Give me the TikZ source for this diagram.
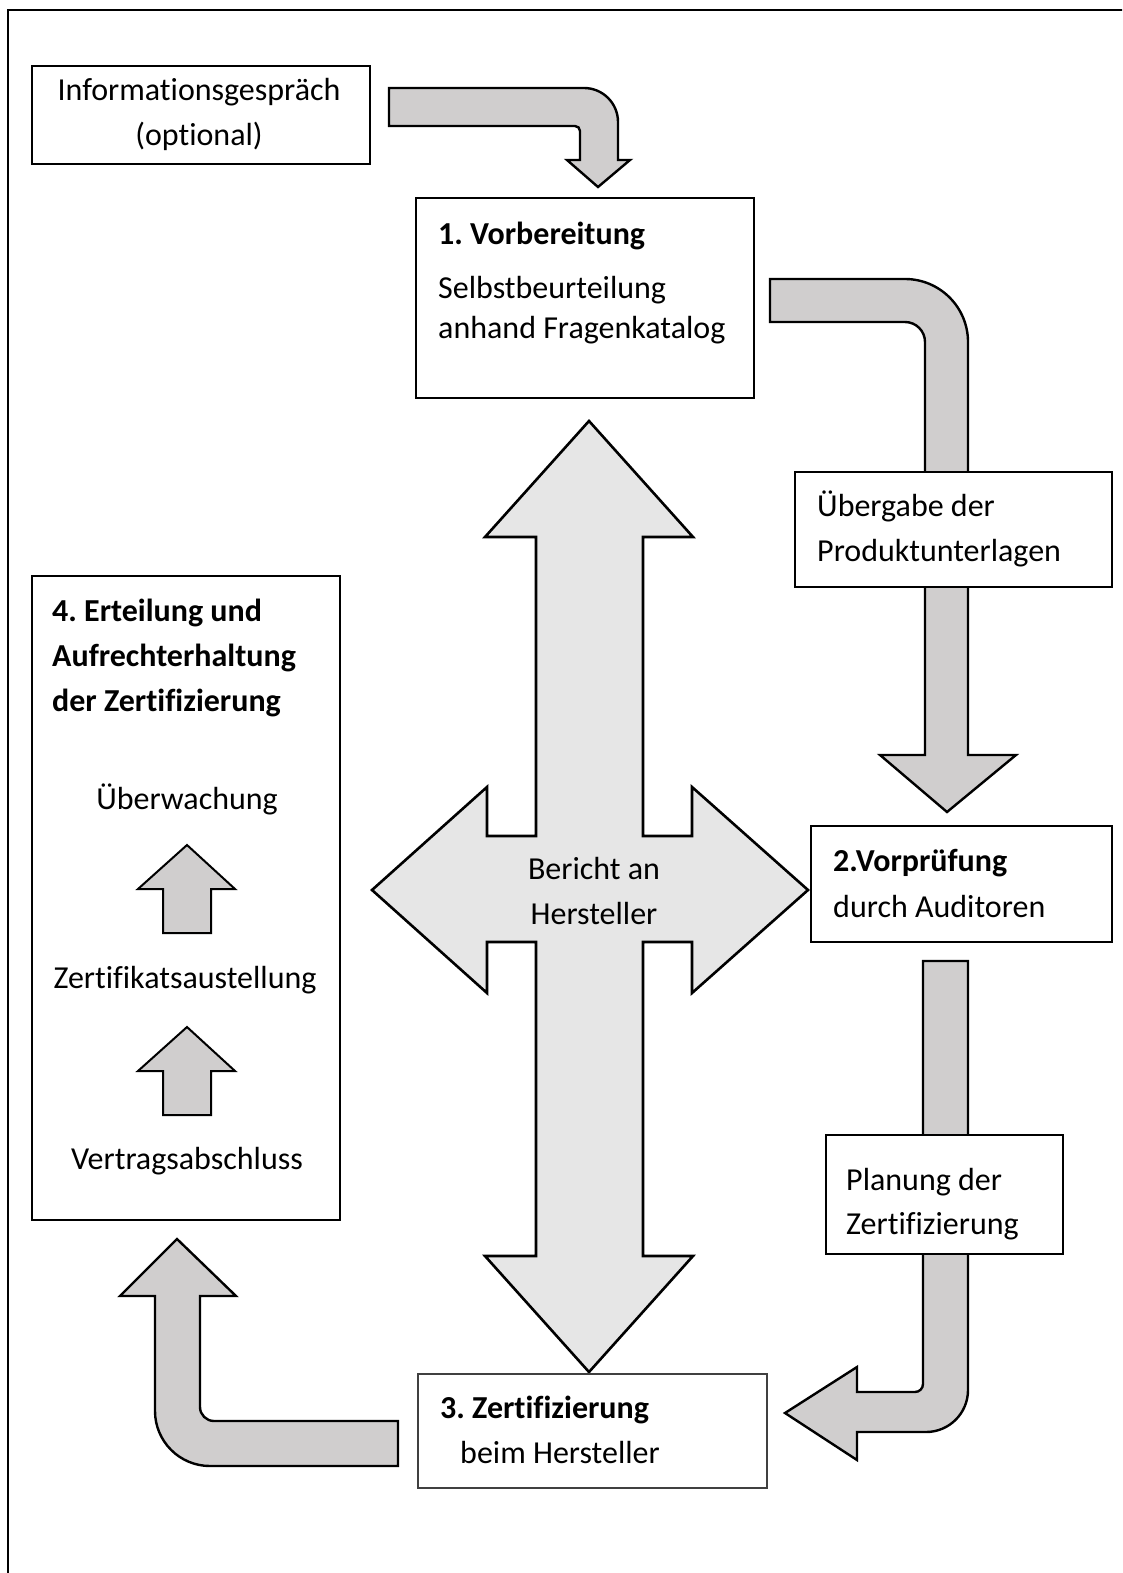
\documentclass[tikz,border=0pt]{standalone}
\usepackage{fontspec}
\setmainfont[Ligatures=NoCommon]{Carlito}
\frenchspacing
\begin{document}
\begin{tikzpicture}[x=1pt,y=-1pt,
  box/.style={draw=black, line width=2pt, fill=white, anchor=north west, inner sep=0pt, outer sep=0pt},
  blockarrow/.style={draw=black, line width=2.4pt, line join=miter, fill=arrowgray},
  crossarrow/.style={draw=black, line width=2.6pt, line join=miter, fill=crossgray},
  txt/.style={inner sep=0pt, anchor=base west, yshift=-3pt, font=\fontsize{32}{45}\selectfont},
  ctxt/.style={txt, anchor=base},
  btxt/.style={txt, font=\fontsize{32}{45}\selectfont\bfseries}]
\definecolor{arrowgray}{HTML}{D0CECE}
\definecolor{crossgray}{HTML}{E6E6E6}
\useasboundingbox (0,0) rectangle (1122,1573);
\clip (0,0) rectangle (1122,1573);

% outer frame (runs past the lower and right edges)
\draw[line width=2.5pt] (8,1620) -- (8,10) -- (1160,10);

% curved block arrow: information talk -> preparation
\draw[blockarrow] (389,88) [rounded corners=34] -- (618,88) [sharp corners] -- (618,160)
  -- (630,160) -- (598,187) -- (567,160) -- (580,160) [rounded corners=5] -- (580,126)
  [sharp corners] -- (389,126) -- cycle;

% curved block arrow: preparation -> pre-check
\draw[blockarrow] (770,279) [rounded corners=63] -- (968,279) [sharp corners] -- (968,755)
  -- (1016,755) -- (947,812) -- (880,755) -- (925,755) [rounded corners=20] -- (925,322)
  [sharp corners] -- (770,322) -- cycle;

% curved block arrow: pre-check -> certification
\draw[blockarrow] (923,961) -- (968,961) [rounded corners=42] -- (968,1432) [sharp corners]
  -- (857,1432) -- (857,1460) -- (785,1413) -- (857,1367) -- (857,1392)
  [rounded corners=8] -- (923,1392) [sharp corners] -- cycle;

% curved block arrow: certification -> granting
\draw[blockarrow] (398,1421) [rounded corners=14] -- (200,1421) [sharp corners] -- (200,1296)
  -- (236,1296) -- (177,1239) -- (120,1296) -- (155,1296) [rounded corners=55] -- (155,1466)
  [sharp corners] -- (398,1466) -- cycle;

% four-way arrow in the middle
\draw[crossarrow] (589,421) -- (693,537) -- (643,537) -- (643,836) -- (692,836) -- (692,787)
  -- (808,890) -- (692,993) -- (692,942) -- (643,942) -- (643,1256) -- (693,1256)
  -- (589,1372) -- (485,1256) -- (536,1256) -- (536,942) -- (487,942) -- (487,993)
  -- (372,890) -- (487,787) -- (487,836) -- (536,836) -- (536,537) -- (485,537) -- cycle;
\node[ctxt] (bericht1) at (594,876) {Bericht an};
\node[ctxt] (bericht2) at (594,921) {Hersteller};

% boxes
\node[box, minimum width=338, minimum height=98] (info) at (32,66) {};
\node[ctxt] (info1) at (199,98) {Informationsgespräch};
\node[ctxt] (info2) at (199,143) {(optional)};

\node[box, minimum width=338, minimum height=200] (vorb) at (416,198) {};
\node[btxt] (vorb1) at (438,241) {1. Vorbereitung};
\node[txt] (vorb2) at (438,295) {Selbstbeurteilung};
\node[txt] (vorb3) at (438,335) {anhand Fragenkatalog};

\node[box, minimum width=317, minimum height=115] (ueber) at (795,472) {};
\node[txt] (ueber1) at (817,513) {Übergabe der};
\node[txt] (ueber2) at (817,558) {Produktunterlagen};

\node[box, minimum width=301, minimum height=116] (vorp) at (811,826) {};
\node[btxt] (vorp1) at (833,868) {2.Vorprüfung};
\node[txt] (vorp2) at (833,914) {durch Auditoren};

\node[box, minimum width=237, minimum height=119] (plan) at (826,1135) {};
\node[txt] (plan1) at (846,1187) {Planung der};
\node[txt] (plan2) at (846,1231) {Zertifizierung};

\node[box, line width=1.2pt, draw=black!75, minimum width=349, minimum height=114] (zert) at (418,1374) {};
\node[btxt] (zert1) at (440,1415) {3. Zertifizierung};
\node[txt] (zert2) at (460,1460) {beim Hersteller};

\node[box, minimum width=308, minimum height=644] (ert) at (32,576) {};
\node[btxt] (ert1) at (52,618) {4. Erteilung und};
\node[btxt] (ert2) at (52,663) {Aufrechterhaltung};
\node[btxt] (ert3) at (52,708) {der Zertifizierung};
\node[ctxt] (ueberw) at (187,806) {Überwachung};
\node[ctxt] (ausst) at (185,985) {Zertifikatsaustellung};
\node[ctxt] (vertr) at (187,1166) {Vertragsabschluss};

% small up arrows inside box 4
\draw[blockarrow, line width=2pt] (187,845) -- (235,889) -- (211,889) -- (211,933) -- (163,933)
  -- (163,889) -- (138,889) -- cycle;
\draw[blockarrow, line width=2pt] (187,1027) -- (235,1071) -- (211,1071) -- (211,1115) -- (163,1115)
  -- (163,1071) -- (138,1071) -- cycle;
\end{tikzpicture}
\end{document}
